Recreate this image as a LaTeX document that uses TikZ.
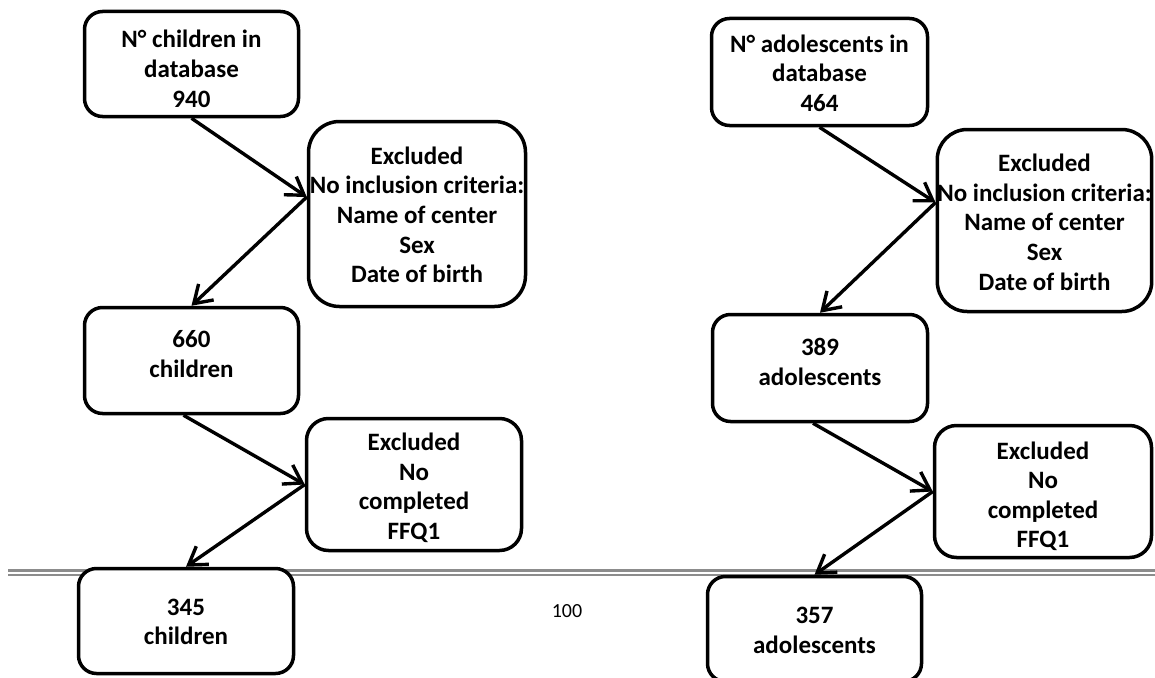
\documentclass[tikz,border=0pt]{standalone}
\usepackage{fontspec}
\setmainfont{Carlito}
\usetikzlibrary{arrows.meta,calc}
\definecolor{rulegray}{RGB}{140,140,140}
\newcommand\boxtext[2]{\raisebox{-#1}[\height][\depth]{\begin{tabular}{@{}c@{}}#2\end{tabular}}}
\begin{document}
\begin{tikzpicture}[x=1pt,y=-1pt,
  box/.style={draw, fill=white, line width=3.5pt,
    font=\fontsize{25}{29.6}\selectfont\bfseries, inner sep=0pt},
  conn/.style={line width=3.4pt, -{Straight Barb[length=17pt,width=22pt]}},
  rule/.style={draw=rulegray, line width=2.8pt},
  pagenum/.style={font=\fontsize{20}{24}\selectfont}
]
\useasboundingbox (0,0) rectangle (1155,677);

% page rule
\coordinate (r1a) at (8,570.5);  \coordinate (r1b) at (1155,570.5);
\coordinate (r2a) at (8,575);    \coordinate (r2b) at (1155,575);
\draw[rule] (r1a) -- (r1b);
\draw[rule, line width=2pt] (r2a) -- (r2b);
\node[pagenum] (pg) at (567,611) {100};

% left column
\node[box, minimum width=214pt, minimum height=105pt, rounded corners=18pt] (A) at (191.5,64)
  {\boxtext{7.5pt}{N° children in\\database\\940}};
\node[box, minimum width=217pt, minimum height=185pt, rounded corners=31pt] (B) at (417,214)
  {\boxtext{3.5pt}{Excluded\\No inclusion criteria:\\Name of center\\Sex\\Date of birth}};
\node[box, minimum width=214pt, minimum height=106pt, rounded corners=18pt] (C) at (191.5,360.5)
  {\boxtext{-4pt}{660\\children}};
\node[box, minimum width=215pt, minimum height=132pt, rounded corners=22pt] (D) at (414,484.5)
  {\boxtext{4.5pt}{Excluded\\No\\completed\\FFQ1}};
\node[box, minimum width=215pt, minimum height=105pt, rounded corners=18pt] (E) at (186,621)
  {\boxtext{3pt}{345\\children}};

% right column
\node[box, minimum width=216pt, minimum height=107pt, rounded corners=18pt] (A2) at (819.5,72)
  {\boxtext{4pt}{N° adolescents in\\database\\464}};
\node[box, minimum width=214pt, minimum height=182pt, rounded corners=30pt] (B2) at (1044.5,220.5)
  {\boxtext{4.5pt}{Excluded\\No inclusion criteria:\\Name of center\\Sex\\Date of birth}};
\node[box, minimum width=215pt, minimum height=107pt, rounded corners=18pt] (C2) at (820,368)
  {\boxtext{-3.5pt}{389\\adolescents}};
\node[box, minimum width=217pt, minimum height=132pt, rounded corners=22pt] (D2) at (1043,491.5)
  {\boxtext{6pt}{Excluded\\No\\completed\\FFQ1}};
\node[box, minimum width=214pt, minimum height=105pt, rounded corners=18pt] (E2) at (814.5,629)
  {\boxtext{3.5pt}{357\\adolescents}};

% connectors
\draw[conn] (A.south) -- ([yshift=17pt]B.west);
\draw[conn] ([yshift=17pt]B.west) -- (C.north);
\draw[conn] ([xshift=-8pt]C.south) -- (D.west);
\draw[conn] (D.west) -- (E.north);
\draw[conn] (A2.south) -- ([yshift=18pt]B2.west);
\draw[conn] ([yshift=18pt]B2.west) -- (C2.north);
\draw[conn] ([xshift=-7pt]C2.south) -- (D2.west);
\draw[conn] (D2.west) -- (E2.north);
\end{tikzpicture}
\end{document}
